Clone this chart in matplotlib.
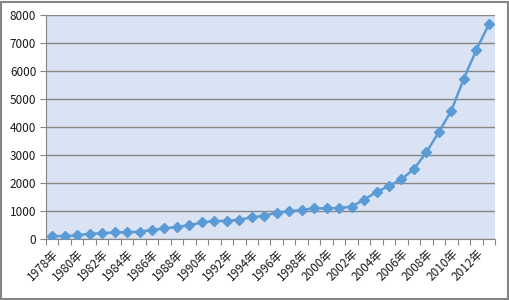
import matplotlib
matplotlib.use("Agg")
import matplotlib.pyplot as plt
from matplotlib.patches import Rectangle

years = list(range(1978, 2014))
values = [107, 107, 131, 190, 203, 238, 238, 262, 321, 381, 429, 488, 595, 643, 643,
          690, 774, 833, 940, 988, 1040, 1095, 1095, 1107, 1155, 1405, 1679, 1893,
          2131, 2500, 3095, 3821, 4583, 5726, 6750, 7667]
labels = [f"{y}年" if (y - 1978) % 2 == 0 else "" for y in years]

plt.rcParams['font.family'] = ['Noto Sans CJK SC', 'DejaVu Sans']

fig = plt.figure(figsize=(5.1, 3.0), dpi=100)
ax = fig.add_axes([46/510, 1-239/300, (495-46)/510, (239-15)/300])
ax.set_facecolor('#DAE3F3')

x = list(range(len(years)))
ax.plot(x, values, color='#5B9BD5', lw=1.8, marker='D', ms=5, zorder=3)

ax.set_xlim(-0.5, len(years) - 0.5)
ax.set_ylim(0, 8000)
ax.set_yticks(range(0, 8001, 1000))
ax.yaxis.grid(True, color='#868686', lw=1)
ax.set_axisbelow(True)

ax.set_xticks([i - 0.5 for i in range(len(years) + 1)], minor=False)
ax.set_xticklabels([])
ax.set_xticks(x, minor=True)
ax.set_xticklabels(labels, minor=True, rotation=45, ha='right', va='top',
                   rotation_mode='anchor', fontsize=8.5, color='#1a1a1a')
ax.tick_params(axis='x', which='minor', length=0, pad=6)
ax.tick_params(axis='x', which='major', length=4, color='#868686')
ax.tick_params(axis='y', length=4, color='#868686', labelsize=8.5, labelcolor='#1a1a1a', pad=3)

for s in ['top', 'right']:
    ax.spines[s].set_visible(False)
for s in ['left', 'bottom']:
    ax.spines[s].set_color('#868686')

fig.patches.append(Rectangle((0.5/510, 1.5/300), 507.5/510, 297/300, transform=fig.transFigure,
                             fill=False, edgecolor='#868686', lw=1.5))

fig.savefig('out.png', dpi=100)
